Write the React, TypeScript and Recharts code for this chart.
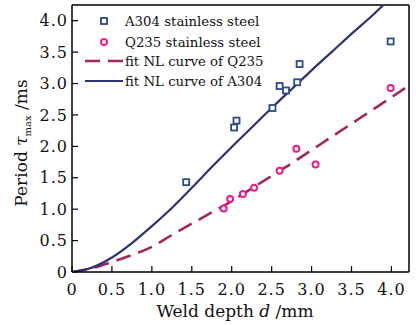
import React from "react";
import {
  ComposedChart,
  Line,
  Scatter,
  XAxis,
  YAxis,
  ReferenceLine
} from "recharts";

// axis ticks
const xTicks = [0, 0.5, 1, 1.5, 2, 2.5, 3, 3.5, 4];
const yTicks = [0, 0.5, 1, 1.5, 2, 2.5, 3, 3.5, 4];

// measured points
const a304Depth = [1.43, 2.03, 2.06, 2.51, 2.6, 2.68, 2.82, 2.85, 3.99];
const a304Period = [1.43, 2.3, 2.41, 2.61, 2.96, 2.89, 3.02, 3.31, 3.67];
const q235Depth = [1.9, 1.98, 2.14, 2.28, 2.6, 2.81, 3.05, 3.99];
const q235Period = [1.01, 1.16, 1.24, 1.34, 1.61, 1.96, 1.71, 2.93];

// fitted NL curves
const fitA304Depth = [0, 0.25, 0.5, 0.75, 1, 1.25, 1.5, 1.75, 2, 2.25, 2.5, 2.75, 3, 3.25, 3.5, 3.75, 3.9];
const fitA304Period = [0, 0.07, 0.23, 0.46, 0.73, 1.02, 1.34, 1.67, 1.99, 2.3, 2.61, 2.91, 3.21, 3.5, 3.79, 4.07, 4.25];
const fitQ235Depth = [0, 0.25, 0.5, 0.75, 1, 1.25, 1.5, 1.75, 2, 2.25, 2.5, 2.75, 3, 3.25, 3.5, 3.75, 4, 4.22];
const fitQ235Period = [0, 0.06, 0.16, 0.27, 0.4, 0.59, 0.77, 0.95, 1.13, 1.33, 1.53, 1.73, 1.94, 2.15, 2.36, 2.57, 2.78, 2.97];

const zip = (xs: number[], ys: number[]) => xs.map((d, i) => ({ d, t: ys[i] }));

const a304Data = zip(a304Depth, a304Period);
const q235Data = zip(q235Depth, q235Period);
const fitA304 = zip(fitA304Depth, fitA304Period);
const fitQ235 = zip(fitQ235Depth, fitQ235Period);

const SERIF = "'DejaVu Serif', serif";
const NAVY = "#2d3274";
const SQUARE = "#2b4a88";
const PINK = "#ea1d8b";
const MAROON = "#a2275f";

const fmt = (v: number) => (v === 0 ? "0" : v.toFixed(1));

const SquareDot = (props: any) => {
  const { cx, cy } = props;
  return <rect x={cx - 3} y={cy - 3} width={6} height={6} fill="#fff" stroke={SQUARE} strokeWidth={1.8} />;
};

const CircleDot = (props: any) => {
  const { cx, cy } = props;
  return <circle cx={cx} cy={cy} r={3} fill="#fff" stroke={PINK} strokeWidth={2} />;
};

// legend drawn by hand, sits inside the plot frame
const LegendBox = () => (
  <svg width={210} height={84} style={{ position: "absolute", left: 80, top: 10 }}>
    <g fontFamily={SERIF} fontSize={13.3} fill="#111">
      <rect x={21} y={8} width={6} height={6} fill="#fff" stroke={SQUARE} strokeWidth={1.8} />
      <text x={45} y={15.5}>A304 stainless steel</text>
      <circle cx={24} cy={32} r={3} fill="#fff" stroke={PINK} strokeWidth={2} />
      <text x={45} y={36.5}>Q235 stainless steel</text>
      <line x1={5} y1={51} x2={43} y2={51} stroke={MAROON} strokeWidth={2.6} strokeDasharray="15 8" />
      <text x={45} y={55.5}>fit NL curve of Q235</text>
      <line x1={5} y1={71} x2={43} y2={71} stroke={NAVY} strokeWidth={2.2} />
      <text x={45} y={75.5}>fit NL curve of A304</text>
    </g>
  </svg>
);

const YLabel = () => (
  <text
    transform="translate(27,143) rotate(-90)"
    textAnchor="middle"
    fontFamily={SERIF}
    fontSize={17}
    fill="#111"
  >
    Period <tspan fontStyle="italic">τ</tspan>
    <tspan fontSize={10} dy={4}>max</tspan>
    <tspan dy={-4}> /ms</tspan>
  </text>
);

const XLabel = () => (
  <text x={235} y={317} textAnchor="middle" fontFamily={SERIF} fontSize={17} fill="#111">
    Weld depth <tspan fontStyle="italic">d</tspan> /mm
  </text>
);

const App = () => {
  const tickStyle = { fontFamily: SERIF, fontSize: 16, fill: "#111", letterSpacing: 1 };
  return (
    <div style={{ position: "absolute", left: 0, top: 0, width: 416, height: 325, background: "#fff" }}>
      <ComposedChart width={416} height={325} margin={{ top: 5, right: 7, left: 0, bottom: 0 }}>
        <XAxis
          type="number"
          dataKey="d"
          domain={[0, 4.22]}
          ticks={xTicks}
          tickFormatter={fmt}
          allowDataOverflow
          height={53}
          tick={tickStyle}
          tickSize={-6}
          tickMargin={18}
          axisLine={{ stroke: "#000", strokeWidth: 1.5 }}
          tickLine={{ stroke: "#000", strokeWidth: 1.2 }}
          label={{ content: () => <XLabel /> }}
        />
        <YAxis
          type="number"
          domain={[0, 4.25]}
          ticks={yTicks}
          tickFormatter={fmt}
          allowDataOverflow
          width={72}
          tick={tickStyle}
          tickSize={-6}
          tickMargin={10}
          axisLine={{ stroke: "#000", strokeWidth: 1.5 }}
          tickLine={{ stroke: "#000", strokeWidth: 1.2 }}
          label={{ content: () => <YLabel /> }}
        />
        <ReferenceLine y={4.25} ifOverflow="visible" stroke="#000" strokeWidth={1.5} />
        <ReferenceLine x={4.22} ifOverflow="visible" stroke="#000" strokeWidth={1.5} />
        <Line
          data={fitQ235}
          dataKey="t"
          type="monotone"
          stroke={MAROON}
          strokeWidth={2.6}
          strokeDasharray="15 8"
          dot={false}
          isAnimationActive={false}
        />
        <Line
          data={fitA304}
          dataKey="t"
          type="monotone"
          stroke={NAVY}
          strokeWidth={2.2}
          dot={false}
          isAnimationActive={false}
        />
        <Scatter data={a304Data} dataKey="t" shape={<SquareDot />} isAnimationActive={false} />
        <Scatter data={q235Data} dataKey="t" shape={<CircleDot />} isAnimationActive={false} />
      </ComposedChart>
      <LegendBox />
    </div>
  );
};

export default App;
